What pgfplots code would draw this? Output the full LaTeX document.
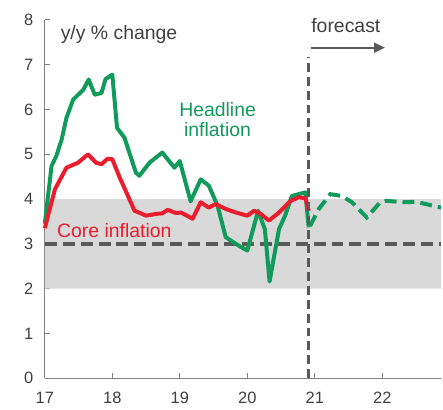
\documentclass[border=0pt]{standalone}
\usepackage{fontspec}
\setmainfont{Liberation Sans}
\usepackage{pgfplots}
\pgfplotsset{compat=1.18}
\usetikzlibrary{calc,arrows.meta}
\definecolor{hgreen}{RGB}{16,155,90}
\definecolor{cred}{RGB}{235,28,45}
\definecolor{bandgrey}{RGB}{217,217,217}
\definecolor{dgrey}{RGB}{89,89,89}
\definecolor{txtgrey}{RGB}{64,64,64}
\definecolor{axgrey}{RGB}{128,128,128}

\begin{document}
\fontsize{16}{19}\selectfont
\begin{tikzpicture}
\begin{axis}[name=ax, scale only axis, width=398pt, height=360pt,
  xmin=17, xmax=22.87, ymin=0, ymax=8,
  axis x line=bottom, axis y line=left, axis line style={-, axgrey, line width=1pt},
  xtick={17,...,22}, ytick={0,...,8},
  xticklabels={17,18,19,20,21,22},
  tick align=inside, major tick length=5pt, tick style={axgrey, line width=1pt},
  tick label style={text=txtgrey, font=\fontsize{16.5}{19}\selectfont},
  /pgf/number format/assume math mode=true,
  xticklabel style={yshift=-8pt}, yticklabel style={xshift=-6pt},
  clip=false]
% target band
\addplot[draw=none, fill=bandgrey] coordinates {(17,2) (22.87,2) (22.87,4) (17,4) (17,2)};
\addplot[dgrey, line width=4pt, dash pattern=on 12pt off 6pt] coordinates {(17,3) (22.87,3)};
% headline, actual
\addplot[hgreen, line width=4pt, line join=round] coordinates {
(17.0,3.45) (17.1,4.74) (17.17,4.96) (17.25,5.33) (17.32,5.81) (17.42,6.22) (17.57,6.44)
(17.65,6.67) (17.74,6.33) (17.84,6.37) (17.9,6.68) (18.0,6.78) (18.07,5.59) (18.18,5.37)
(18.35,4.59) (18.4,4.52) (18.55,4.81) (18.74,5.04) (18.92,4.70) (19.0,4.85) (19.16,3.95)
(19.31,4.44) (19.43,4.30) (19.56,3.85) (19.68,3.15) (19.83,3.0) (20.0,2.85) (20.16,3.74)
(20.26,3.33) (20.33,2.16) (20.47,3.33) (20.56,3.63) (20.66,4.07) (20.76,4.11) (20.86,4.15)
(20.91,3.37)};
% headline, forecast
\addplot[hgreen, line width=4pt, dash pattern=on 12pt off 6pt] coordinates {
(20.93,3.4) (21.06,3.78) (21.23,4.11) (21.4,4.07) (21.55,3.93) (21.77,3.59) (21.97,3.93)
(22.06,3.96) (22.33,3.93) (22.5,3.94) (22.87,3.81)};
% core
\addplot[cred, line width=4pt, line join=round] coordinates {
(17.0,3.35) (17.15,4.22) (17.32,4.70) (17.49,4.81) (17.64,5.0) (17.76,4.81) (17.84,4.78)
(17.93,4.9) (18.0,4.89) (18.11,4.48) (18.33,3.74) (18.5,3.63) (18.65,3.67) (18.74,3.68)
(18.82,3.76) (18.94,3.69) (19.02,3.70) (19.19,3.56) (19.31,3.93) (19.43,3.81) (19.53,3.89)
(19.68,3.78) (19.83,3.70) (20.0,3.63) (20.1,3.74) (20.2,3.67) (20.32,3.52) (20.47,3.70)
(20.64,3.96) (20.76,4.04) (20.86,4.02) (20.91,3.74)};
\addplot[dgrey, line width=2.8pt, dash pattern=on 9pt off 5pt] coordinates {(20.91,0) (20.91,7.18)};
\draw[dgrey, line width=1.8pt, -{Triangle[length=11pt,width=10pt]}] (axis cs:20.94,7.38) -- (axis cs:22.04,7.38);
\node[text=txtgrey, font=\fontsize{19.5}{22}\selectfont] at (axis cs:21.46,7.88) {forecast};
\node[text=txtgrey, font=\fontsize{19.5}{22}\selectfont] at (axis cs:18.1,7.67) {y/y \% change};
\node[text=hgreen, font=\fontsize{19.5}{20.5}\selectfont, align=center] at (axis cs:19.56,5.78) {Headline\\inflation};
\node[text=cred, font=\fontsize{19.5}{22}\selectfont] at (axis cs:18.03,3.3) {Core inflation};
\end{axis}
\path ($(ax.south west)+(-45pt,-31pt)$) rectangle ($(ax.north east)+(0pt,20pt)$);
\end{tikzpicture}
\end{document}
